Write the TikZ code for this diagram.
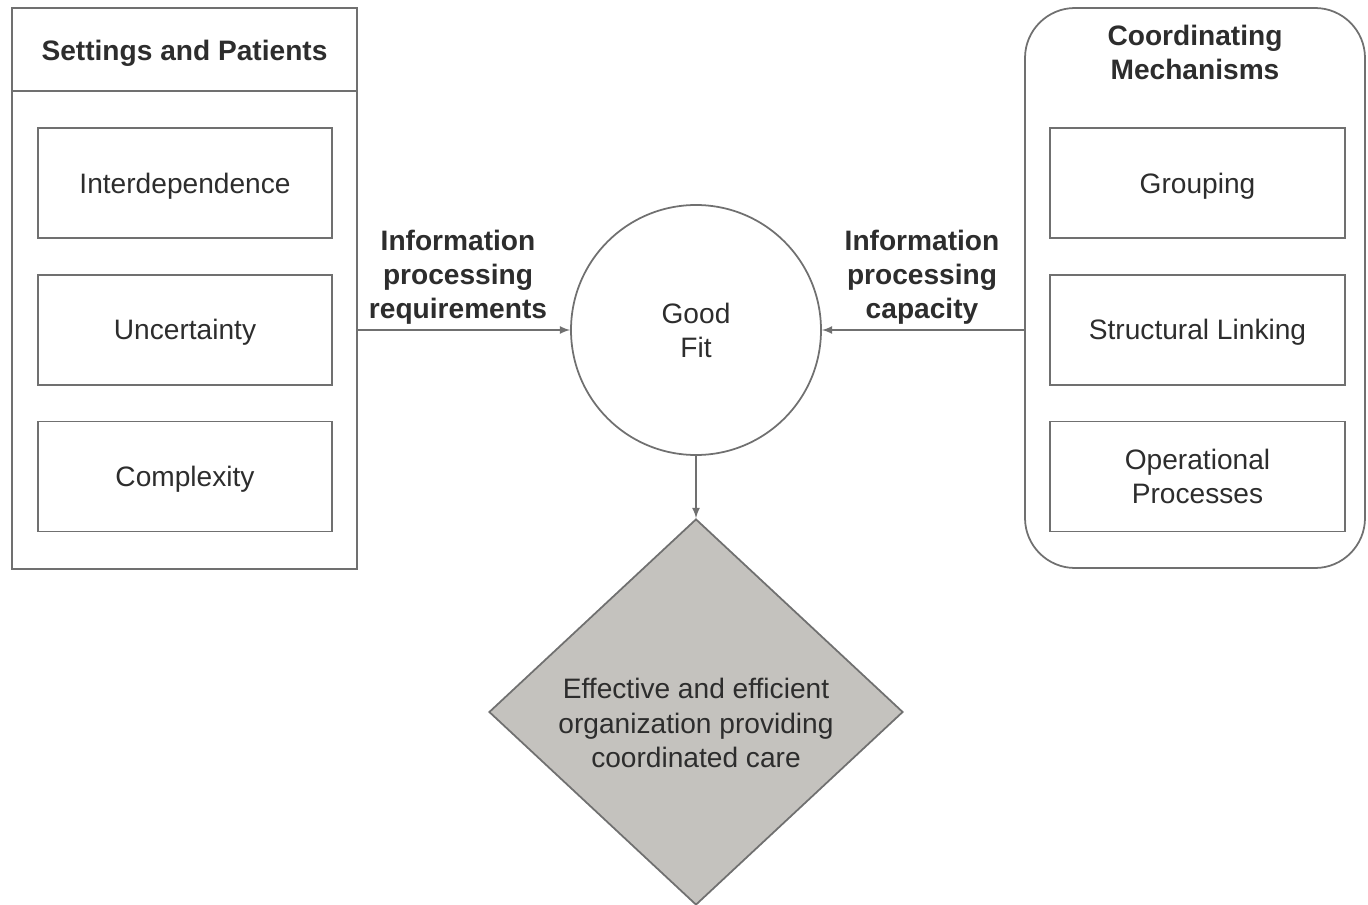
\documentclass[tikz,border=0pt]{standalone}
\usepackage{fontspec}
\setmainfont{Liberation Sans}
\usepackage{tikz}
\usetikzlibrary{arrows,positioning,shapes.geometric}

\definecolor{linegray}{RGB}{112,112,112}
\definecolor{textgray}{RGB}{45,45,45}
\definecolor{diamondgray}{RGB}{196,194,190}

\begin{document}
\begin{tikzpicture}[>=latex,thick,node distance = 0.7cm]

\tikzstyle{every node}=[text=textgray,font=\fontsize{16}{19.4}\selectfont,align=center]
\tikzstyle{outerbox}=[draw=linegray,line width=1pt,minimum width=6.9cm,minimum height=11.22cm,inner sep=0pt]
\tikzstyle{itembox}=[draw=linegray,line width=1pt,minimum width=5.88cm,minimum height=2.2cm,inner sep=0pt]
\tikzstyle{flowlabel}=[font=\fontsize{16}{19.4}\selectfont\bfseries]
\tikzstyle{flow}=[->,draw=linegray,line width=1pt]

\useasboundingbox (0,0) rectangle (27.36,-18.1);

%settings and patients
\node [outerbox] (setbox) at (3.69,-5.77) {};
\node [flowlabel] (sethead) at (3.69,-1.06) {Settings and Patients};
\draw [draw=linegray,line width=1pt] (setbox.north west) ++(0,-1.68) coordinate (divl) -- (divl -| setbox.east);

\node [itembox,text depth=0pt] (inter) at (3.7,-3.66) {Interdependence};
\node [itembox,text depth=0pt] (uncert) [below=of inter] {Uncertainty};
\node [itembox,text depth=0pt] (compl) [below=of uncert] {Complexity};

%coordinating mechanisms
\node [outerbox,rounded corners=1cm,minimum width=6.8cm,minimum height=11.2cm] (coordbox) at (23.9,-5.76) {};
\node [flowlabel] (coordhead) at (23.9,-1.04) {Coordinating\\Mechanisms};

\node [itembox,minimum width=5.9cm,text depth=0pt] (group) at (23.95,-3.66) {Grouping};
\node [itembox,minimum width=5.9cm,text depth=0pt] (struct) [below=of group] {Structural Linking};
\node [itembox,minimum width=5.9cm] (oper) [below=of struct] {Operational\\Processes};

%good fit
\node [circle,draw=linegray,line width=1pt,minimum size=5cm,inner sep=0pt] (fit) at (13.92,-6.6) {Good\\Fit};

\node [diamond,draw=linegray,line width=1pt,fill=diamondgray,minimum width=8.28cm,minimum height=7.72cm,inner sep=0pt,
       label={[yshift=-0.22cm]center:Effective and efficient\\organization providing\\coordinated care}] (care) at (13.92,-14.24) {};

\node [flowlabel] (reqlabel) at (9.16,-5.54) {Information\\processing\\requirements};
\node [flowlabel] (caplabel) at (18.44,-5.54) {Information\\processing\\capacity};

\draw [flow] (setbox.east |- fit) -- (fit.west);
\draw [flow] (coordbox.west |- fit) -- (fit.east);
\draw [flow] (fit.south) -- (care.north);

\end{tikzpicture}
\end{document}
